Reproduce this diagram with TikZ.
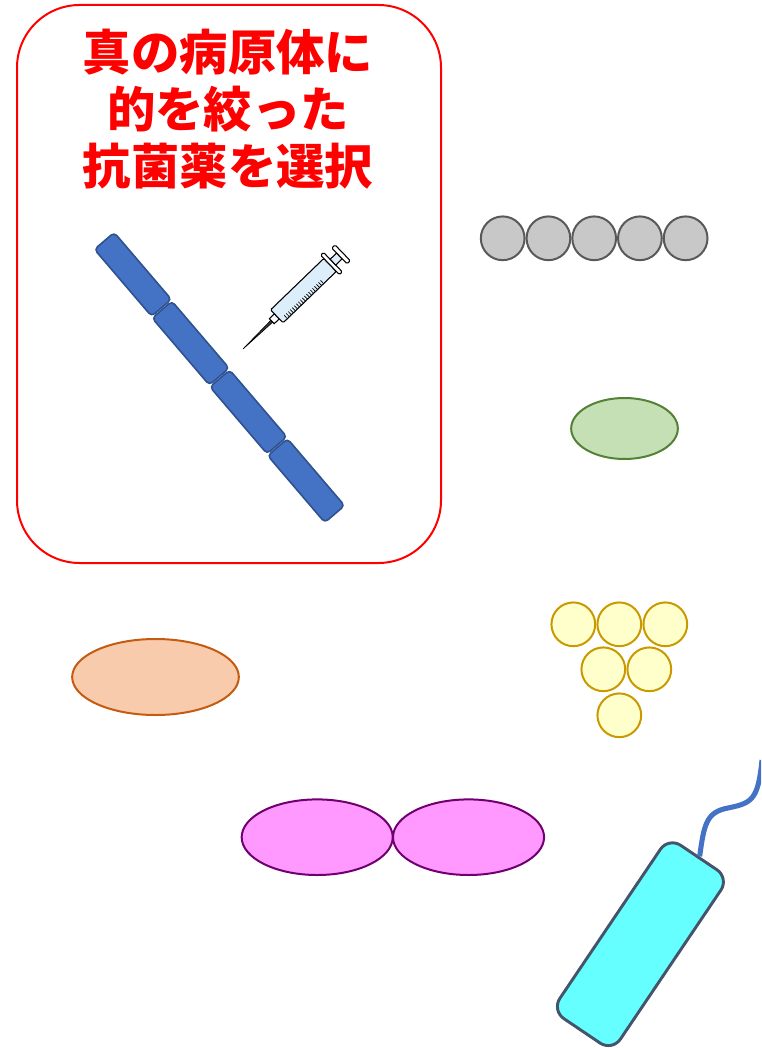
\documentclass[tikz,border=0pt]{standalone}
\usepackage{fontspec}
\newfontfamily\cjk{Noto Sans CJK JP}
\usepackage{xcolor}
\usetikzlibrary{positioning,shapes.geometric}

\definecolor{rodfill}{HTML}{4472C4}
\definecolor{rodline}{HTML}{2F528F}
\definecolor{greyfill}{HTML}{C8C8C8}
\definecolor{greyline}{HTML}{595959}
\definecolor{greenfill}{HTML}{C5E0B4}
\definecolor{greenline}{HTML}{538135}
\definecolor{yellowfill}{HTML}{FFFFCC}
\definecolor{yellowline}{HTML}{C99A00}
\definecolor{orangefill}{HTML}{F8CBAD}
\definecolor{orangeline}{HTML}{C55A11}
\definecolor{pinkfill}{HTML}{FF99FF}
\definecolor{pinkline}{HTML}{700070}
\definecolor{cyanfill}{HTML}{66FFFF}
\definecolor{cyanline}{HTML}{44546A}
\definecolor{syringe}{HTML}{DCEEFA}

\begin{document}
\begin{tikzpicture}[x=0.75pt, y=-0.75pt, on grid,
  panel/.style={rectangle, draw=red, line width=1.5pt, rounded corners=47pt,
    minimum width=318pt, minimum height=418.5pt, inner sep=0pt},
  title/.style={text=red, align=center, inner sep=0pt,
    font=\cjk\bfseries\fontsize{36.3}{42.75}\selectfont},
  seg/.style={rectangle, draw=rodline, fill=rodfill, line width=1.2pt,
    rounded corners=3pt, minimum width=66pt, minimum height=19.5pt,
    inner sep=0pt, rotate=-49.5},
  coccus/.style={circle, line width=1.5pt, minimum size=32.8pt, inner sep=0pt},
  grey/.style={coccus, draw=greyline, fill=greyfill},
  yellow/.style={coccus, draw=yellowline, fill=yellowfill},
  oval/.style={ellipse, line width=1.5pt, inner sep=0pt},
  cell/.style={rectangle, draw=cyanline, fill=cyanfill, line width=2.2pt,
    rounded corners=11pt, minimum width=156.75pt, minimum height=54.75pt,
    inner sep=0pt, rotate=56},
  part/.style={draw=black, line width=0.8pt, fill=white}]

  \useasboundingbox (0,0) rectangle (761,1048);
  \clip (0,0) rectangle (761,1048);

  \node[panel] (panel) at (229,284) {};
  \node[title] (title) at (228,109) {真の病原体に\\的を絞った\\抗菌薬を選択};

  \foreach \k in {0,...,3}
    \node[seg] (s\k) at ({104+231*(\k+0.5)/4}, {240+275*(\k+0.5)/4}) {};

  \begin{scope}[shift={(243,349)}, rotate=44, x=0.75pt, y=0.75pt]
    \draw[fill=darkgray, line width=0.5pt] (0,0) -- (40,-1.3) -- (40,1.3) -- cycle;
    \draw[part] (40,-3.5) rectangle (47,3.5);
    \draw[part, fill=syringe, rounded corners=1pt] (47,-9) rectangle (121,9);
    \foreach \t in {53,55.8,...,104}
      \draw[line width=0.5pt] (\t,-9) -- (\t,-4.5);
    \draw[part, rounded corners=1pt] (121,-13.5) rectangle (125,13.5);
    \draw[part, fill=syringe] (125,-4) rectangle (134,4);
    \draw[part, rounded corners=1pt] (134,-11) rectangle (138.5,11);
  \end{scope}

  \node[grey] (g1) at (502.7,238.3) {};
  \node[grey] (g2) [right=34.3pt of g1] {};
  \node[grey] (g3) [right=34.3pt of g2] {};
  \node[grey] (g4) [right=34.3pt of g3] {};
  \node[grey] (g5) [right=34.3pt of g4] {};

  \node[oval, draw=greenline, fill=greenfill, minimum width=80pt, minimum height=45.75pt]
    (bacillus) at (624.5,428.5) {};

  \node[yellow] (y1) at (573.3,624.3) {};
  \node[yellow] (y2) [right=34.5pt of y1] {};
  \node[yellow] (y3) [right=34.5pt of y2] {};
  \node[yellow] (y4) [below right=33.75pt and 22.5pt of y1] {};
  \node[yellow] (y5) [right=34.5pt of y4] {};
  \node[yellow] (y6) [below right=34.5pt and 12pt of y4] {};

  \node[oval, draw=orangeline, fill=orangefill, minimum width=125pt, minimum height=57pt]
    (yeast) at (155.5,677) {};

  \node[oval, draw=pinkline, fill=pinkfill, minimum width=113.3pt, minimum height=56.7pt]
    (p1) at (317.2,837.2) {};
  \node[oval, draw=pinkline, fill=pinkfill, minimum width=113.3pt, minimum height=56.7pt]
    (p2) [right=113.5pt of p1] {};

  \node[cell] (rod) at (640.4,944.2) {};
  \draw[rodfill, line width=3.8pt]
    (rod.east) .. controls (704,825) and (706,812) .. (728,808)
    .. controls (752,803) and (758,800) .. (762,760);
\end{tikzpicture}
\end{document}
